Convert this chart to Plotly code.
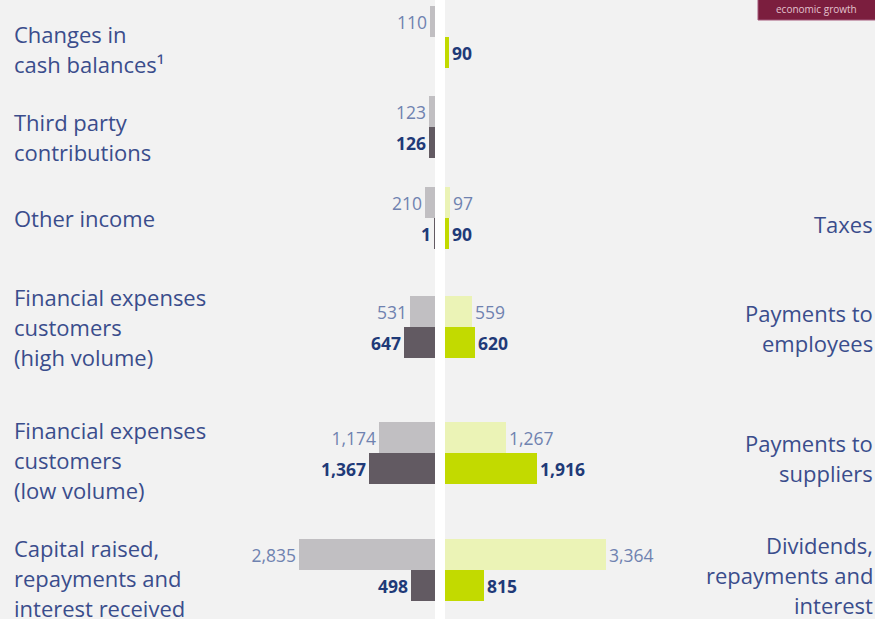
import plotly.graph_objects as go

# ---- data ----
left_labels = ["Changes in<br>cash balances¹", "Third party<br>contributions", "Other income",
               "Financial expenses<br>customers<br>(high volume)",
               "Financial expenses<br>customers<br>(low volume)",
               "Capital raised,<br>repayments and<br>interest received"]
right_labels = ["", "", "Taxes", "Payments to<br>employees", "Payments to<br>suppliers",
                "Dividends,<br>repayments and<br>interest"]
left_prev = [110, 123, 210, 531, 1174, 2835]
left_curr = [None, 126, 1, 647, 1367, 498]
right_prev = [None, None, 97, 559, 1267, 3364]
right_curr = [90, None, 90, 620, 1916, 815]

# ---- layout (row centres along the vertical axis, label nudges in px) ----
row_pos = [37, 127, 218, 327, 453, 570]
left_label_nudge = [12, 10, 0, 0, 7, 8]
right_label_nudge = [0, 0, 6, 1, 5, 5]
W, H = 875, 619
BAR = 31
LEFT_END, RIGHT_START = 435, 445
PX_PER_UNIT = 0.048

C_LGREY, C_DGREY = "#c1bfc2", "#625a62"
C_LGREEN, C_GREEN = "#ebf3b6", "#c2da00"
C_PREV_TXT, C_CURR_TXT = "#6f82b0", "#1f3a78"
C_LABEL = "#3a4d8c"
FONT = "Open Sans"

fig = go.Figure()

def add_bar(vals, xaxis, color, offset, txtcolor, bold):
    fig.add_trace(go.Bar(
        y=row_pos, x=vals, orientation="h", xaxis=xaxis, yaxis="y",
        marker=dict(color=color, line=dict(width=0)),
        width=BAR, offset=offset,
        texttemplate=("<b>%{x:,}</b>" if bold else "%{x:,}"),
        textposition="outside", constraintext="none", cliponaxis=False,
        textfont=dict(family=FONT, size=17.5, color=txtcolor),
        hoverinfo="skip", showlegend=False))

add_bar(left_prev, "x", C_LGREY, -BAR, C_PREV_TXT, False)
add_bar(left_curr, "x", C_DGREY, 0, C_CURR_TXT, True)
add_bar(right_prev, "x2", C_LGREEN, -BAR, C_PREV_TXT, False)
add_bar(right_curr, "x2", C_GREEN, 0, C_CURR_TXT, True)

annotations = []
LINE = 30
LABEL_SIZE = 22

def add_labels(labels, nudges, x, anchor):
    for pos, lab, nud in zip(row_pos, labels, nudges):
        if not lab:
            continue
        lines = lab.split("<br>")
        n = len(lines)
        for i, ln in enumerate(lines):
            annotations.append(dict(
                xref="paper", yref="y", x=x, y=pos, xanchor=anchor, yanchor="middle",
                yshift=-(nud + (i - (n - 1) / 2) * LINE), text=ln, showarrow=False,
                font=dict(family=FONT, size=LABEL_SIZE, color=C_LABEL)))

add_labels(left_labels, left_label_nudge, 12 / W, "left")
add_labels(right_labels, right_label_nudge, 1, "right")

annotations.append(dict(
    xref="paper", yref="paper", x=(758 + W) / 2 / W, y=1 - 9 / H, xanchor="center",
    yanchor="middle", text="economic growth", showarrow=False,
    font=dict(family=FONT, size=10, color="#e3c3cf")))

shapes = [
    dict(type="rect", xref="paper", yref="paper", x0=LEFT_END / W, x1=RIGHT_START / W,
         y0=0, y1=1, fillcolor="#ffffff", line=dict(width=0), layer="below"),
    dict(type="rect", xref="paper", yref="paper", x0=758 / W, x1=1.01,
         y0=1 - 20 / H, y1=1.01, fillcolor="#7b1e3e", line=dict(color="#a3587a", width=1),
         layer="above"),
]

axis_common = dict(showgrid=False, zeroline=False, showticklabels=False, showline=False,
                   ticks="", fixedrange=True)
fig.update_layout(
    width=W, height=H, margin=dict(l=0, r=0, t=0, b=0),
    paper_bgcolor="#f2f2f2", plot_bgcolor="#f2f2f2",
    xaxis=dict(domain=[0, LEFT_END / W], range=[LEFT_END / PX_PER_UNIT, 0], anchor="y",
               **axis_common),
    xaxis2=dict(domain=[RIGHT_START / W, 1], range=[0, (W - RIGHT_START) / PX_PER_UNIT],
                anchor="y", **axis_common),
    yaxis=dict(range=[H, 0], **axis_common),
    barmode="overlay", bargap=0,
    annotations=annotations, shapes=shapes,
)

fig.write_html("out.html", config={"displayModeBar": False},
               post_script="document.body.style.margin='0';document.body.style.overflow='hidden';")
